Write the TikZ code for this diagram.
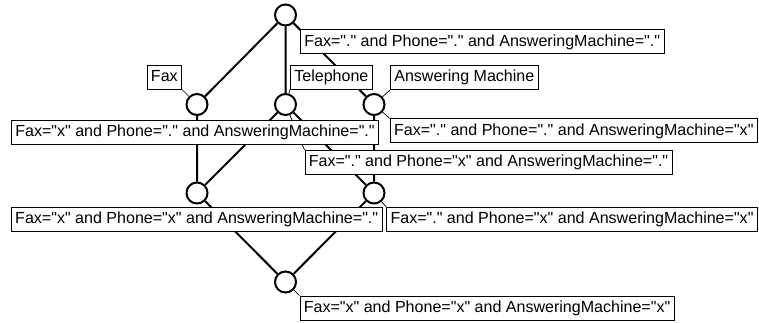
\documentclass[tikz,border=0pt]{standalone}
\usepackage{fontspec}
\setmainfont{Liberation Sans}[Ligatures=TeXOff]
\usetikzlibrary{backgrounds}
\begin{document}
\begin{tikzpicture}[x=1pt,y=-1pt,
  concept/.style={circle,draw,line width=2pt,fill=white,minimum size=21pt,inner sep=0pt},
  lbl/.style={draw,line width=0.8pt,fill=white,font=\fontsize{16.05pt}{19pt}\selectfont,
    inner xsep=3.9pt,inner ysep=0pt,text height=11.8pt,text depth=3.2pt,minimum height=24pt},
  edge/.style={line width=2pt},
  leader/.style={line width=0.7pt}]
\useasboundingbox (0,0) rectangle (759,323);
% concepts
\node[concept] (T)  at (285.5,15) {};
\node[concept] (F)  at (197,104.5) {};
\node[concept] (P)  at (285.5,104.5) {};
\node[concept] (A)  at (374,104.5) {};
\node[concept] (FP) at (197,193) {};
\node[concept] (PA) at (374,193) {};
\node[concept] (B)  at (285.5,282) {};
% labels
\node[lbl,anchor=north west] (topObj) at (300,29.5) {Fax="." and Phone="." and AnsweringMachine="."};
\node[lbl,anchor=south east] (faxAttr) at (182,89.5) {Fax};
\node[lbl,anchor=south west] (telAttr) at (290,89.5) {Telephone};
\node[lbl,anchor=south west] (amAttr) at (390,90) {Answering Machine};
\node[lbl,anchor=north east] (fObj) at (379,120) {Fax="x" and Phone="." and AnsweringMachine="."};
\node[lbl,anchor=north east] (amObj) at (757.8,118.5) {Fax="." and Phone="." and AnsweringMachine="x"};
\node[lbl,anchor=north west] (pObj) at (304.5,150) {Fax="." and Phone="x" and AnsweringMachine="."};
\node[lbl,anchor=north east] (fpObj) at (382.5,207) {Fax="x" and Phone="x" and AnsweringMachine="."};
\node[lbl,anchor=north east] (paObj) at (757.8,207) {Fax="." and Phone="x" and AnsweringMachine="x"};
\node[lbl,anchor=north west] (bObj) at (299.5,295.5) {Fax="x" and Phone="x" and AnsweringMachine="x"};
\begin{scope}[on background layer]
\draw[edge] (T)--(F) (T)--(P) (T)--(A) (F)--(FP) (P)--(FP) (P)--(PA) (A)--(PA) (FP)--(B) (PA)--(B);
\draw[leader] (T)--(topObj.north west) (F)--(faxAttr.south east) (P)--(telAttr.south west)
  (A)--(amAttr.south west) (A)--(amObj.north west) (P)--(pObj.north west)
  (PA)--(paObj.north west) (B)--(bObj.north west);
\end{scope}
\end{tikzpicture}
\end{document}
